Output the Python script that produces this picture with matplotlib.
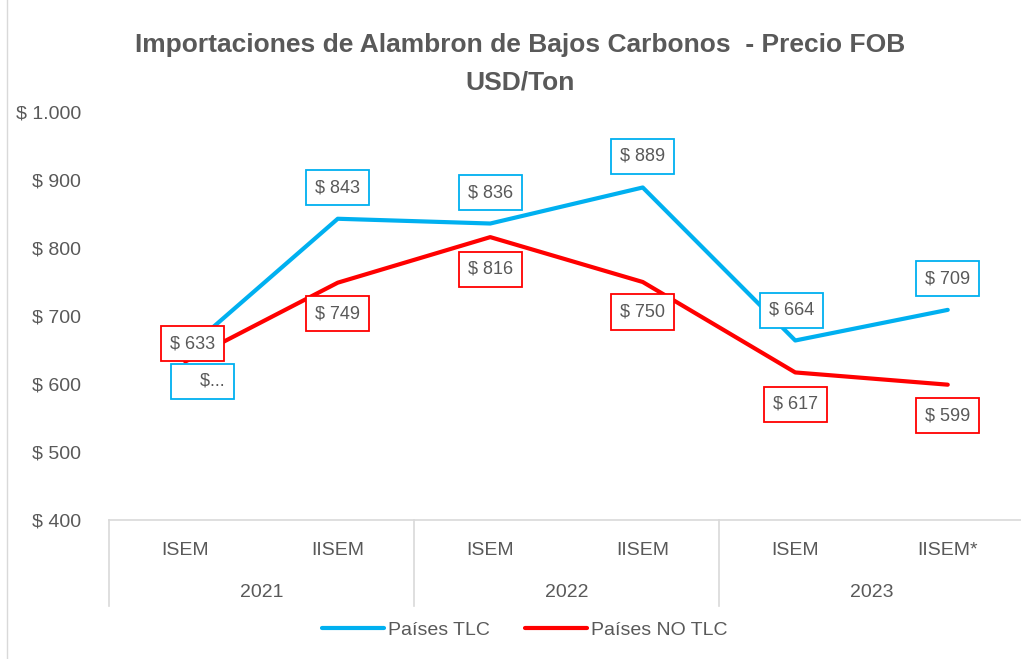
import matplotlib
matplotlib.use('Agg')
import matplotlib.pyplot as plt
import matplotlib.transforms as mtransforms
from matplotlib.lines import Line2D

# Data
semestres = ['ISEM', 'IISEM', 'ISEM', 'IISEM', 'ISEM', 'IISEM*']
anios = ['2021', '2022', '2023']
tlc = [648, 843, 836, 889, 664, 709]
no_tlc = [633, 749, 816, 750, 617, 599]
tlc_labels = ['    $...', '$ 843', '$ 836', '$ 889', '$ 664', '$ 709']
no_tlc_labels = ['$ 633', '$ 749', '$ 816', '$ 750', '$ 617', '$ 599']
y_ticks = [400, 500, 600, 700, 800, 900, 1000]
y_tick_labels = ['$ 400', '$ 500', '$ 600', '$ 700', '$ 800', '$ 900', '$ 1.000']

plt.rcParams['font.family'] = ['Liberation Sans Narrow', 'Liberation Sans', 'DejaVu Sans']
gray = '#595959'
blue = '#00B0F0'
red = '#FF0000'

fig = plt.figure(figsize=(10.21, 6.59), dpi=100)
ax = fig.add_axes([109 / 1021, 1 - 520 / 659, 915 / 1021, 408 / 659])

x = list(range(len(semestres)))
ax.plot(x, tlc, color=blue, linewidth=3, solid_capstyle='round', label='Países TLC')
ax.plot(x, no_tlc, color=red, linewidth=3, solid_capstyle='round', label='Países NO TLC')

ax.set_xlim(-0.5, 5.5)
ax.set_ylim(400, 1000)
ax.set_yticks(y_ticks)
ax.set_yticklabels(y_tick_labels, fontsize=14, color=gray)
ax.set_xticks(x)
ax.set_xticklabels(semestres, fontsize=14, color=gray)
ax.tick_params(axis='both', length=0)
ax.tick_params(axis='x', pad=16)
ax.tick_params(axis='y', pad=20)
for side in ['left', 'right', 'top']:
    ax.spines[side].set_visible(False)
ax.spines['bottom'].set_color('#D9D9D9')
ax.spines['bottom'].set_linewidth(1.2)

# second level of the category axis (years) and separators
trans = mtransforms.blended_transform_factory(ax.transData, ax.transAxes)
for i, anio in enumerate(anios):
    ax.text(2 * i + 0.5, -0.177, anio, transform=trans, ha='center', va='center',
            fontsize=14, color=gray)
for xs in [-0.5, 1.5, 3.5]:
    ax.add_line(Line2D([xs, xs], [0, -0.21], transform=trans, color='#D9D9D9',
                       linewidth=1.2, clip_on=False))

# data labels
tlc_offsets = [(17, -30), (0, 31), (0, 31), (0, 31), (-4, 30), (0, 31)]
no_tlc_offsets = [(7, 18), (0, -31), (0, -32), (0, -30), (0, -32), (0, -31)]
for xi, v, lab, off in zip(x, tlc, tlc_labels, tlc_offsets):
    ax.annotate(lab, (xi, v), xytext=off, textcoords='offset pixels', ha='center',
                va='center', fontsize=13, color=gray,
                bbox=dict(boxstyle='square,pad=0.5', fc='white', ec=blue, lw=1.3))
for xi, v, lab, off in zip(x, no_tlc, no_tlc_labels, no_tlc_offsets):
    ax.annotate(lab, (xi, v), xytext=off, textcoords='offset pixels', ha='center',
                va='center', fontsize=13, color=gray,
                bbox=dict(boxstyle='square,pad=0.5', fc='white', ec=red, lw=1.3))

fig.text(520 / 1021, 1 - 45 / 659, 'Importaciones de Alambron de Bajos Carbonos  - Precio FOB',
         ha='center', va='center', fontsize=19, fontweight='bold', color=gray)
fig.text(520 / 1021, 1 - 82 / 659, 'USD/Ton', ha='center', va='center', fontsize=19,
         fontweight='bold', color=gray)

fig.legend(loc='center', bbox_to_anchor=(525 / 1021, 1 - 630 / 659), ncol=2, frameon=False,
           fontsize=14, labelcolor=gray, handlelength=3.2, handletextpad=0.2,
           columnspacing=1.8)

# light outer frame on the left
fig.add_artist(Line2D([7 / 1021, 7 / 1021], [0, 1], transform=fig.transFigure,
                      color='#D9D9D9', linewidth=1))

fig.savefig('out.png', dpi=100)
